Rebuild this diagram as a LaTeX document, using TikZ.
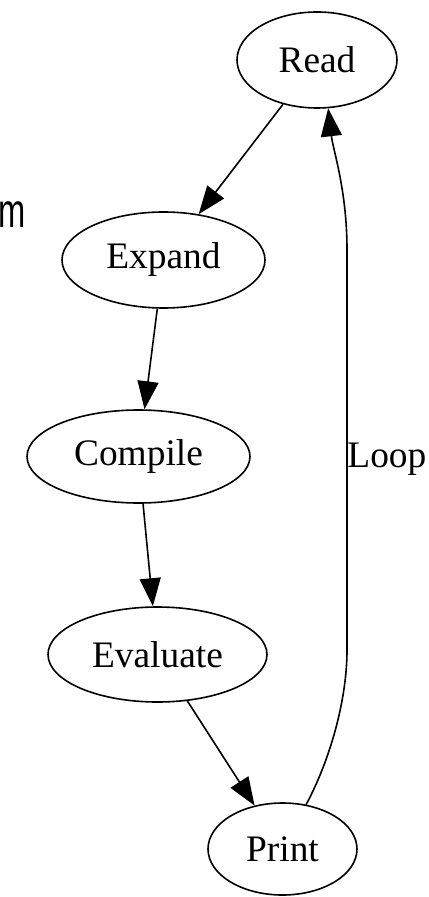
\documentclass[tikz,border=0pt]{standalone}
\usepackage{fontspec}
\setmainfont{Liberation Serif}
\newfontfamily\sidefont{Liberation Sans}
\usetikzlibrary{shapes.geometric,arrows.meta}

\tikzset{
  stage/.style={draw, ellipse, line width=0.8pt, inner sep=0pt,
    font=\fontsize{18.7pt}{22pt}\selectfont},
  flow/.style={line width=0.8pt, -{Triangle[length=14pt,width=10.5pt]}},
  edgelabel/.style={inner sep=0pt, font=\fontsize{18.7pt}{22pt}\selectfont}
}

\begin{document}
\begin{tikzpicture}[x=0.5pt, y=-0.5pt]
  \useasboundingbox (0,0) rectangle (428,897);

  % stages of the cycle
  \node[stage, minimum width=80pt,  minimum height=48pt] (read)     at (317,60)      {Read};
  \node[stage, minimum width=101.5pt, minimum height=48pt] (expand) at (163.5,260)   {Expand};
  \node[stage, minimum width=111.5pt, minimum height=46.5pt] (compile) at (138.5,456.5) {Compile};
  \node[stage, minimum width=109.5pt, minimum height=47.5pt] (evaluate) at (157.5,654.5) {Evaluate};
  \node[stage, minimum width=74.5pt, minimum height=46pt] (print)   at (282.5,849)   {Print};

  % forward steps
  \draw[flow] (read) -- (expand);
  \draw[flow] (expand) -- (compile);
  \draw[flow] (compile) -- (evaluate);
  \draw[flow] (evaluate) -- (print);

  % return edge
  \draw[flow] (print.62) .. controls (330,760) and (347,700) .. (347,650)
              -- (347,250) .. controls (347,190) and (333,150) .. (read.-77);
  \node[edgelabel, anchor=base west] (looplabel) at (347,467) {Loop};

  % stray letter at the left margin
  \node[inner sep=0pt, anchor=base west, xscale=0.68,
        font=\sidefont\fontsize{24pt}{28pt}\selectfont] (sidem) at (-2,228) {m};
\end{tikzpicture}
\end{document}
